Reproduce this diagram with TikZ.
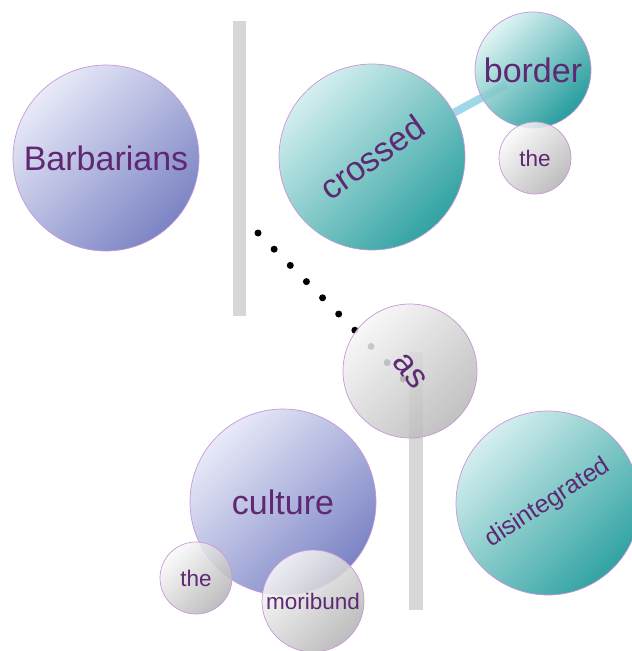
\documentclass[tikz,border=0pt]{standalone}
\usepackage{fontspec}
\setmainfont{Liberation Sans}
\usetikzlibrary{backgrounds}
\definecolor{purL}{RGB}{228,230,247}
\definecolor{purD}{RGB}{100,110,186}
\definecolor{tealL}{RGB}{218,242,242}
\definecolor{tealD}{RGB}{0,140,140}
\definecolor{greyL}{RGB}{250,250,250}
\definecolor{greyD}{RGB}{178,178,178}
\definecolor{ring}{RGB}{200,150,215}
\definecolor{txt}{RGB}{95,40,115}
\definecolor{barc}{RGB}{215,215,215}
\definecolor{linkc}{RGB}{160,216,234}
\tikzset{
  bubble/.style={circle, draw=ring, line width=0.7pt, inner sep=0pt, text=txt,
    fill opacity=0.85, text opacity=1, minimum size=#1},
  purplebub/.style={bubble=#1, top color=purL, bottom color=purD, shading angle=45},
  tealbub/.style={bubble=#1, top color=tealL, bottom color=tealD, shading angle=45},
  greybub/.style={bubble=#1, top color=greyL, bottom color=greyD, shading angle=45},
  bigtxt/.style={font=\fontsize{34}{40}\selectfont},
  smalltxt/.style={font=\fontsize{22.5}{27}\selectfont},
  bar/.style={fill=barc, draw=none},
  dots/.style={line width=7pt, line cap=round, dash pattern=on 0pt off 22.87pt},
  link/.style={line width=8pt, draw=linkc}
}
\begin{document}
\begin{tikzpicture}[x=1pt,y=1pt]
\useasboundingbox (0,0) rectangle (632,-651);
% bars
\fill[bar] (233,-21) rectangle (246,-316);
\fill[bar] (409,-352) rectangle (423,-610);
% dotted connector
\coordinate (d1) at (258,-233);
\coordinate (d2) at (403.5,-379);
\draw[dots] (d1) -- (d2);
% bubbles
\node[purplebub=186pt, bigtxt] (barb) at (106,-158) {Barbarians};
\node[tealbub=186pt, rotate=35, bigtxt] (crossed) at (372,-157) {crossed};
\node[tealbub=116pt, bigtxt] (border) at (533,-70) {border};
\node[greybub=72pt, smalltxt] (theA) at (535,-158) {the};
\node[greybub=134pt, rotate=-52, bigtxt] (as) at (410,-371) {as};
\node[purplebub=186pt, bigtxt] (culture) at (283,-502) {culture};
\node[greybub=72pt, smalltxt] (theB) at (196,-578) {the};
\node[greybub=102pt, smalltxt] (moribund) at (313,-601) {moribund};
\node[tealbub=184pt, rotate=33, font=\fontsize{25}{30}\selectfont] (disint) at (548,-503) {disintegrated};
\begin{scope}[on background layer]
\draw[link, shorten >=-28pt] (crossed) -- (border);
\end{scope}
\end{tikzpicture}
\end{document}
